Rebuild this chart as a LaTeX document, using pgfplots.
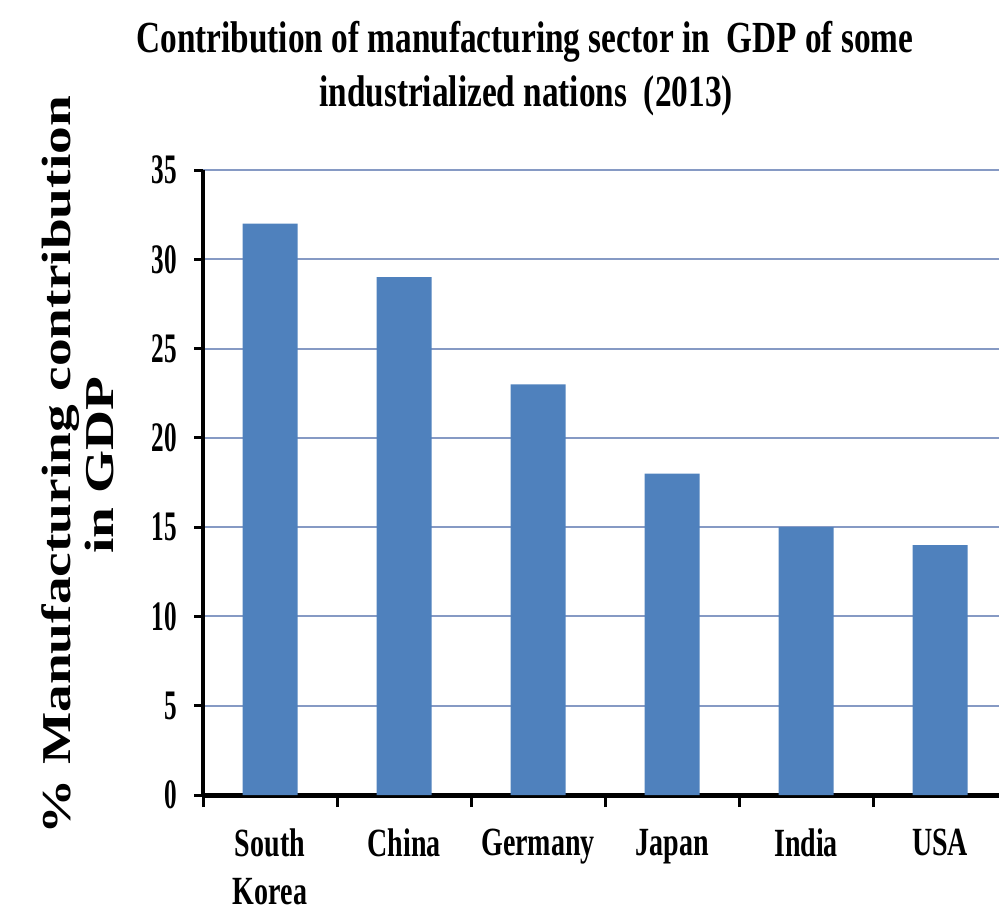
\documentclass[border=0pt]{standalone}
\usepackage{pgfplots}
\pgfplotsset{compat=1.18}
\usepackage{fontspec}
\setmainfont{Liberation Serif}
\newfontfamily\titlefont{Liberation Serif}[FakeStretch=0.75]
\newfontfamily\tickfont{Liberation Serif}[FakeStretch=0.6]
\newfontfamily\catfont{Liberation Serif}[FakeStretch=0.7]
\newfontfamily\ylabfont{Liberation Serif}[FakeStretch=1.35]
\definecolor{barblue}{RGB}{79,129,189}
\definecolor{gridblue}{RGB}{134,154,196}
\begin{document}
\begin{tikzpicture}
\useasboundingbox (0,0) rectangle (499.5pt,456pt);
\begin{axis}[
  at={(101.5pt,58.5pt)}, anchor=south west,
  scale only axis, width=398pt, height=312.5pt,
  xmin=-0.5, xmax=5.44, ymin=0, ymax=35,
  ytick={0,5,...,35},
  xtick={0,...,5},
  xticklabels={{South\\Korea},China,Germany,Japan,India,USA},
  minor xtick={-0.5,0.5,...,4.5},
  axis x line*=bottom, axis y line*=left,
  x axis line style={line width=2.5pt, -},
  y axis line style={line width=2pt, -},
  tick align=outside,
  major tick length=4.5pt, minor tick length=6pt,
  tick style={black, line width=1.5pt},
  minor tick style={black, line width=1.5pt},
  major x tick style={draw=none},
  ymajorgrids, major grid style={gridblue, line width=1pt},
  /pgf/number format/assume math mode=true,
  yticklabel style={font=\tickfont\bfseries\fontsize{21}{22}\selectfont, xshift=-5pt},
  xticklabel style={align=center, yshift=-9pt, font=\catfont\bfseries\fontsize{20}{24}\selectfont},
]
\addplot[ybar, bar width=27.5pt, fill=barblue, draw=none]
  coordinates {(0,32) (1,29) (2,23) (3,18) (4,15) (5,14)};
\end{axis}
\node[anchor=base, font=\titlefont\bfseries\fontsize{22.2}{27}\selectfont] at (262.5pt,429.5pt) {Contribution of manufacturing sector in\ \ GDP of some};
\node[anchor=base, font=\titlefont\bfseries\fontsize{22.2}{27}\selectfont] at (263pt,402.5pt) {industrialized nations\ \ (2013)};
\node[anchor=base, rotate=90, font=\ylabfont\bfseries\fontsize{20.5}{22}\selectfont] at (35pt,223.5pt) {\% Manufacturing contribution};
\node[anchor=base, rotate=90, font=\ylabfont\bfseries\fontsize{20.5}{22}\selectfont] at (56.5pt,223.5pt) {in GDP};
\end{tikzpicture}
\end{document}
